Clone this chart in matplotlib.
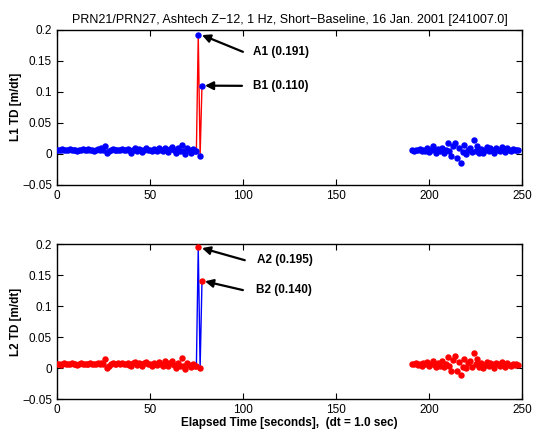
import matplotlib
matplotlib.use("Agg")
import matplotlib.pyplot as plt
import numpy as np

plt.rcParams['font.family'] = ['Liberation Sans', 'DejaVu Sans']
plt.rcParams['axes.unicode_minus'] = True

title = "PRN21/PRN27, Ashtech Z\u221212, 1 Hz, Short\u2212Baseline, 16 Jan. 2001 [241007.0]"
xlabel = "Elapsed Time [seconds],  (dt = 1.0 sec)"
ylabels = ["L1 TD [m/dt]", "L2 TD [m/dt]"]

# ---- data ----
x_seg1 = list(range(0, 75))
x_spike = [75, 76, 77, 78]
x_seg2 = list(range(191, 249))

l1_seg1 = [0.006, 0.007, 0.006, 0.008, 0.007, 0.006, 0.007, 0.008, 0.006, 0.007,
           0.006, 0.005, 0.007, 0.006, 0.008, 0.007, 0.006, 0.008, 0.007, 0.006,
           0.005, 0.007, 0.008, 0.006, 0.009, 0.007, 0.013, 0.001, 0.004, 0.006,
           0.008, 0.006, 0.007, 0.006, 0.007, 0.008, 0.006, 0.007, 0.008, 0.006,
           0.002, 0.007, 0.009, 0.005, 0.008, 0.006, 0.003, 0.007, 0.009, 0.006,
           0.007, 0.005, 0.008, 0.006, 0.004, 0.009, 0.006, 0.005, 0.010, 0.007,
           0.003, 0.008, 0.011, 0.006, 0.002, 0.009, 0.005, 0.015, 0.004, 0.000,
           0.010, 0.006, 0.002, 0.008, 0.004]
l1_spike = [0.005, 0.191, -0.003, 0.110]
l1_seg2 = [0.006, 0.005, 0.007, 0.006, 0.008, 0.004, 0.007, 0.005, 0.009, 0.003,
           0.007, 0.013, 0.006, 0.002, 0.008, 0.004, 0.010, 0.001, 0.006, 0.017,
           0.004, -0.003, 0.012, 0.018, -0.006, 0.009, -0.014, 0.003, 0.014, 0.000,
           0.007, 0.010, 0.003, 0.022, 0.005, 0.013, 0.001, 0.008, 0.002, 0.006,
           0.011, 0.004, 0.009, 0.007, 0.002, 0.010, 0.006, 0.004, 0.011, 0.008,
           0.003, 0.009, 0.006, 0.005, 0.008, 0.006, 0.007, 0.006]

l2_seg1 = [0.006, 0.007, 0.005, 0.007, 0.008, 0.006, 0.007, 0.006, 0.008, 0.006,
           0.007, 0.005, 0.006, 0.008, 0.007, 0.006, 0.007, 0.006, 0.008, 0.007,
           0.006, 0.007, 0.008, 0.006, 0.008, 0.007, 0.014, 0.001, 0.003, 0.007,
           0.008, 0.006, 0.007, 0.008, 0.006, 0.009, 0.006, 0.007, 0.008, 0.005,
           0.003, 0.008, 0.010, 0.005, 0.009, 0.006, 0.003, 0.008, 0.010, 0.007,
           0.006, 0.004, 0.009, 0.006, 0.005, 0.010, 0.006, 0.004, 0.012, 0.008,
           0.003, 0.009, 0.012, 0.005, 0.001, 0.008, 0.004, 0.016, 0.003, -0.001,
           0.009, 0.005, 0.002, 0.006, 0.004]
l2_spike = [0.003, 0.195, 0.000, 0.140]
l2_seg2 = [0.007, 0.006, 0.008, 0.005, 0.007, 0.004, 0.008, 0.006, 0.010, 0.003,
           0.006, 0.012, 0.005, 0.002, 0.009, 0.003, 0.011, 0.002, 0.007, 0.018,
           0.003, -0.004, 0.013, 0.019, -0.005, 0.010, -0.011, 0.002, 0.015, 0.001,
           0.008, 0.011, 0.002, 0.024, 0.006, 0.014, 0.002, 0.009, 0.001, 0.005,
           0.010, 0.003, 0.008, 0.006, 0.001, 0.009, 0.007, 0.003, 0.010, 0.007,
           0.002, 0.008, 0.005, 0.004, 0.007, 0.005, 0.006, 0.005]

ann_labels = [["A1 (0.191)", "B1 (0.110)"], ["A2 (0.195)", "B2 (0.140)"]]
# text anchor (x, y) and arrow tail/head per panel
ann_text_xy = [[(105.4, 0.1645), (105.4, 0.1097)], [(107.5, 0.174), (107.0, 0.1258)]]
ann_tail = [[(100.0, 0.1645), (99.5, 0.1097)], [(101.0, 0.174), (100.0, 0.1258)]]
ann_head = [[(78.0, 0.1915), (79.6, 0.110)], [(78.0, 0.1935), (79.6, 0.140)]]

yticks = [-0.05, 0, 0.05, 0.1, 0.15, 0.2]
ytick_labels = ["\u22120.05", "0", "0.05", "0.1", "0.15", "0.2"]
xticks = [0, 50, 100, 150, 200, 250]

fig = plt.figure(figsize=(5.36, 4.32), dpi=100)
ax1 = fig.add_axes([0.106, 0.572, 0.868, 0.359])
ax2 = fig.add_axes([0.106, 0.076, 0.868, 0.359])

panels = [
    (ax1, l1_seg1, l1_spike, l1_seg2, 'blue', 'red'),
    (ax2, l2_seg1, l2_spike, l2_seg2, 'red', 'blue'),
]

for i, (ax, s1, sp, s2, mcol, lcol) in enumerate(panels):
    ax.plot(x_spike, sp, '-', color=lcol, lw=1.0, zorder=2)
    xs = x_seg1 + x_spike + x_seg2
    ys = s1 + sp + s2
    ax.plot(xs, ys, 'o', color=mcol, ms=3.6, mec=mcol, zorder=3)
    ax.set_xlim(0, 250)
    ax.set_ylim(-0.05, 0.2)
    ax.set_xticks(xticks)
    ax.set_xticklabels([str(t) for t in xticks])
    ax.set_yticks(yticks)
    ax.set_yticklabels(ytick_labels)
    ax.tick_params(direction='in', top=True, right=True, labelsize=8.5, length=4, width=0.8)
    for sp_ in ax.spines.values():
        sp_.set_linewidth(1.0)
    ax.set_ylabel(ylabels[i], fontweight='bold', fontsize=8.5, labelpad=0)

    for j in range(2):
        ax.text(ann_text_xy[i][j][0], ann_text_xy[i][j][1], ann_labels[i][j],
                fontsize=8.5, fontweight='bold', va='center', ha='left')
        ax.annotate('', xy=ann_head[i][j], xytext=ann_tail[i][j],
                    arrowprops=dict(arrowstyle='-|>', color='black', lw=1.6,
                                    mutation_scale=12, shrinkA=0, shrinkB=0))

ax1.set_title(title, fontsize=9, pad=5)
ax2.set_xlabel(xlabel, fontweight='bold', fontsize=8.5, labelpad=1)

fig.savefig("out.png", dpi=100)
